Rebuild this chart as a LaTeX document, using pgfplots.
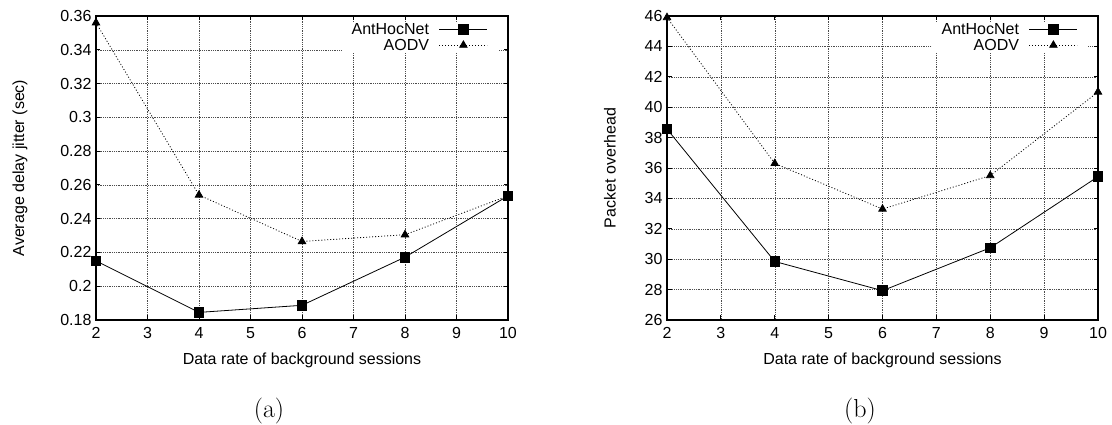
\documentclass[border=0pt]{standalone}
\usepackage{fontspec}
\setsansfont{Liberation Sans}
\usepackage{pgfplots}
\pgfplotsset{compat=1.18}
\pgfplotsset{
  myaxis/.style={
    scale only axis,
    height=304pt,
    xmin=2, xmax=10, xtick={2,3,4,5,6,7,8,9,10},
    /pgf/number format/assume math mode=true,
    scaled y ticks=false,
    grid=major,
    major grid style={black!70, line width=0.5pt, dash pattern=on 0.6pt off 1.2pt},
    axis line style={line width=1.1pt},
    major tick length=4.5pt,
    tick style={black, line width=0.8pt},
    tick align=inside,
    clip=false,
    xticklabel style={yshift=-4pt},
    yticklabel style={xshift=-1pt},
    xlabel={Data rate of background sessions},
    xlabel style={at={(axis description cs:0.5,0)}, anchor=center, yshift=-40pt},
    legend plot pos=right,
    legend cell align=right,
    legend image code/.code={\draw[mark repeat=2,mark phase=2,#1] plot coordinates {(0pt,0pt) (24pt,0pt) (48pt,0pt)};},
    legend style={at={(1,1)}, anchor=north east, xshift=-10pt, yshift=-6pt,
      draw=none, fill=white, inner xsep=10pt, inner ysep=1.25pt,
      row sep=4.5pt, column sep=10pt,
      nodes={inner sep=0pt, text height=11.5pt, text depth=0pt}},
  },
  ant/.style={black, line width=0.8pt, solid, mark=square*, mark size=4.8pt},
  aodv/.style={black, line width=0.8pt, dash pattern=on 1pt off 2pt, mark=triangle*, mark size=4.3pt, mark options={solid}},
}
\begin{document}
\begin{tikzpicture}[font=\sffamily\fontsize{16}{19}\selectfont]
\path[use as bounding box] (0,0) rectangle (1112pt,425pt);
\begin{axis}[myaxis,
  at={(96pt,105pt)}, anchor=south west,
  width=412pt,
  ymin=0.18, ymax=0.36,
  ytick={0.18,0.2,0.22,0.24,0.26,0.28,0.3,0.32,0.34,0.36},
  ylabel={Average delay jitter (sec)},
  ylabel style={at={(axis description cs:-0.1845,0.5)}, anchor=center},
]
\addplot[ant] coordinates {(2,0.2150) (4,0.1845) (6,0.1887) (8,0.2172) (10,0.2535)};
\addlegendentry{AntHocNet}
\addplot[aodv] coordinates {(2,0.3560) (4,0.2540) (6,0.2265) (8,0.2305) (10,0.2535)};
\addlegendentry{AODV}
\end{axis}
\begin{axis}[myaxis,
  at={(667pt,105pt)}, anchor=south west,
  width=431pt,
  ymin=26, ymax=46,
  ytick={26,28,30,32,34,36,38,40,42,44,46},
  ylabel={Packet overhead},
  ylabel style={at={(axis description cs:-0.1323,0.5)}, anchor=center},
]
\addplot[ant] coordinates {(2,38.56) (4,29.85) (6,27.93) (8,30.75) (10,35.43)};
\addlegendentry{AntHocNet}
\addplot[aodv] coordinates {(2,45.9) (4,36.3) (6,33.3) (8,35.5) (10,41.0)};
\addlegendentry{AODV}
\end{axis}
\node[font=\rmfamily\fontsize{26}{30}\selectfont] at (269pt,14pt) {(a)};
\node[font=\rmfamily\fontsize{26}{30}\selectfont] at (860pt,14pt) {(b)};
\end{tikzpicture}
\end{document}
